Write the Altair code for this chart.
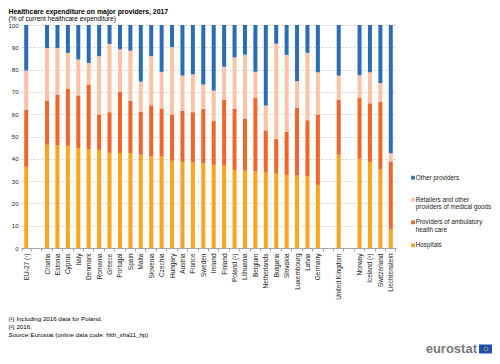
import altair as alt
import pandas as pd

countries = ["EU-27 (¹)", "Croatia", "Estonia", "Cyprus", "Italy", "Denmark", "Romania",
             "Greece", "Portugal", "Spain", "Malta", "Slovenia", "Czechia", "Hungary",
             "Austria", "France", "Sweden", "Ireland", "Finland", "Poland (²)", "Lithuania",
             "Belgium", "Netherlands", "Bulgaria", "Slovakia", "Luxembourg", "Latvia",
             "Germany", "United Kingdom", "Norway", "Iceland (²)", "Switzerland",
             "Liechtenstein"]
hospitals = [36.4, 46.3, 45.9, 45.8, 44.8, 44.2, 43.9, 42.7, 42.6, 42.6, 41.8, 41.1, 41.0,
             39.1, 38.6, 38.3, 38.0, 37.3, 37.0, 35.0, 34.7, 34.3, 33.8, 33.5, 32.8, 32.5,
             32.3, 28.3, 41.8, 40.0, 38.6, 35.2, 8.3]
ambulatory = [25.6, 19.8, 22.9, 25.7, 23.6, 29.1, 16.0, 18.2, 27.5, 23.5, 19.4, 22.9, 21.5,
              20.8, 23.0, 22.6, 24.4, 19.6, 29.4, 27.5, 23.4, 33.0, 18.9, 15.5, 19.3, 30.3,
              25.0, 31.6, 24.6, 27.3, 26.3, 30.3, 30.5]
retailers = [17.6, 23.6, 20.9, 16.0, 16.1, 9.7, 26.1, 30.6, 19.0, 22.4, 13.4, 22.0, 16.5,
             30.2, 15.7, 17.0, 10.9, 13.7, 14.9, 23.0, 28.6, 11.7, 11.2, 42.6, 34.5, 12.0,
             30.2, 18.9, 10.9, 10.2, 13.9, 8.5, 3.7]
other = [20.4, 10.3, 10.3, 12.5, 15.5, 17.0, 14.0, 8.5, 10.9, 11.5, 25.4, 14.0, 21.0,
         9.9, 22.7, 22.1, 26.7, 29.4, 18.7, 14.5, 13.3, 21.0, 36.1, 8.4, 13.4, 25.2,
         12.5, 21.2, 22.7, 22.5, 21.2, 26.0, 57.5]

x_domain = (["EU-27 (¹)", "gap1"] + countries[1:28] + ["gap2", "United Kingdom", "gap3"]
            + countries[29:])

providers = ["Hospitals", "Providers of ambulatory health care",
             "Retailers and other providers of medical goods", "Other providers"]
provider_colors = ["#F9A51E", "#F0652A", "#FAC3A6", "#2B6CB4"]

# legend entries, top to bottom, with their wrapped label lines
legend_lines = [["Other providers"],
                ["Retailers and other", "providers of medical goods"],
                ["Providers of ambulatory", "health care"],
                ["Hospitals"]]
legend_colors = provider_colors[::-1]

series = [hospitals, ambulatory, retailers, other]
rows = []
for i, c in enumerate(countries):
    for k, p in enumerate(providers):
        rows.append({"country": c, "provider": p, "value": series[k][i], "ord": k})
df = pd.DataFrame(rows)

font = "Liberation Sans"

bars = alt.Chart(df).mark_bar(size=4).encode(
    x=alt.X("country:N", sort=x_domain, scale=alt.Scale(domain=x_domain),
            axis=alt.Axis(title=None, labelAngle=270, labelFontSize=6.5, labelPadding=2,
                          labelExpr="indexof(datum.label, 'gap') == 0 ? '' : datum.label",
                          tickBand="extent", tickSize=3, tickColor="#a6a6a6",
                          domainColor="#a6a6a6", labelColor="#222222", labelLimit=0)),
    y=alt.Y("value:Q", stack="zero", scale=alt.Scale(domain=[0, 100], nice=False),
            axis=alt.Axis(title=None, values=list(range(0, 101, 10)), grid=True,
                          gridDash=[2, 2], gridColor="#d0d0d0", domain=False, ticks=False,
                          labelFontSize=6, labelPadding=3, labelColor="#222222")),
    color=alt.Color("provider:N", scale=alt.Scale(domain=providers, range=provider_colors),
                    legend=None),
    order=alt.Order("ord:Q", sort="ascending"),
)

one = pd.DataFrame({"a": [0]})


def label(text, x, y, size, weight="normal", style="normal", color="#000000",
          baseline="alphabetic", align="left"):
    return alt.Chart(one).mark_text(
        fontSize=size, fontWeight=weight, fontStyle=style, color=color,
        baseline=baseline, align=align, font=font
    ).encode(x=alt.value(x), y=alt.value(y), text=alt.value(text))


layers = [bars]

# legend
legend_y = [152.7, 174.7, 197.3, 220.3]
for lines, col, ly in zip(legend_lines, legend_colors, legend_y):
    layers.append(alt.Chart(one).mark_square(size=14, color=col, opacity=1).encode(
        x=alt.value(392), y=alt.value(ly)))
    for j, t in enumerate(lines):
        layers.append(label(t, 394.8, ly + j * 7.6, 6.3, color="#222222", baseline="middle"))

layers += [
    label("Healthcare expenditure on major providers, 2017", -12.5, -11.5, 6.9, weight="bold"),
    label("(% of current healthcare expenditure)", -12.5, -4.3, 6.5),
    label("(¹) Including 2016 data for Poland.", -12.5, 294, 6.2, baseline="middle"),
    label("(²) 2016.", -12.5, 301.5, 6.2, baseline="middle"),
    label("Source:", -12.5, 310, 6.2, style="italic", baseline="middle"),
    label("Eurostat (online data code: hlth_sha11_hp)", 9.5, 310, 6.2, baseline="middle"),
    label("eurostat", 456, 327.5, 13, weight="bold", color="#7a7a7a", align="right"),
    alt.Chart(one).mark_rect(color="#1F4FB4").encode(
        x=alt.value(458), x2=alt.value(472), y=alt.value(319.5), y2=alt.value(328.5)),
    alt.Chart(one).mark_point(shape="circle", size=14, color="#FFD200",
                              strokeWidth=0.8, filled=False).encode(
        x=alt.value(465), y=alt.value(324)),
]

chart = alt.layer(*layers).properties(
    width=375, height=223,
    autosize=alt.AutoSizeParams(type="none"),
    padding={"left": 13, "top": 17, "right": 96, "bottom": 108},
).configure(font=font).configure_view(stroke=None)

chart.save("out.html", embed_options={"renderer": "svg", "actions": False})
